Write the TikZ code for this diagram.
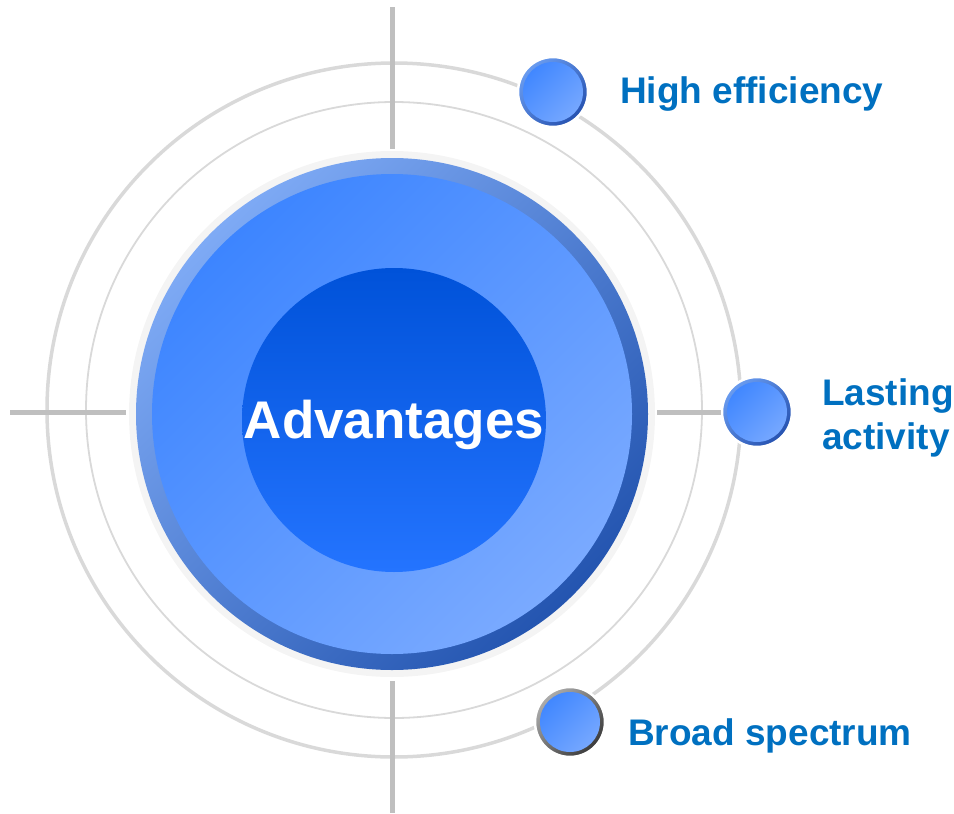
\documentclass[tikz,border=0pt]{standalone}
\usepackage{fontspec}
\setmainfont{Liberation Sans}
\usepackage{tikz}
\usetikzlibrary{calc,positioning,shapes.geometric}

\definecolor{ringgray}{HTML}{D9D9D9}
\definecolor{axisgray}{HTML}{BFBFBF}
\definecolor{halogray}{HTML}{F4F4F4}
\definecolor{coreringlight}{HTML}{7EAAF5}
\definecolor{coreringdark}{HTML}{2455B0}
\definecolor{filltop}{HTML}{3D85FF}
\definecolor{fillbot}{HTML}{7AAAFF}
\definecolor{deeptop}{HTML}{0052D9}
\definecolor{deepbot}{HTML}{2474FF}
\definecolor{bubringlight}{HTML}{6A9CF0}
\definecolor{bubringdark}{HTML}{2652B0}
\definecolor{grayringlight}{HTML}{ADADAD}
\definecolor{grayringdark}{HTML}{3A3A3A}
\definecolor{capblue}{HTML}{0070C0}

\begin{document}
\begin{tikzpicture}[x=1pt,y=-1pt]

	\tikzstyle{ring} = [draw=ringgray, line width=3.5pt]
	\tikzstyle{thinring} = [draw=ringgray, line width=1.8pt]
	\tikzstyle{axisline} = [draw=axisgray, line width=5pt]
	\tikzstyle{bubble} = [circle, inner sep=0pt, minimum size=70pt, draw=white, line width=2.5pt,
		path picture={\shade[top color=filltop, bottom color=fillbot, shading angle=45]
			(path picture bounding box.center) circle (30pt);}]
	\tikzstyle{bluebubble} = [bubble, top color=bubringlight, bottom color=bubringdark, shading angle=45]
	\tikzstyle{graybubble} = [bubble, top color=grayringlight, bottom color=grayringdark, shading angle=45]
	\tikzstyle{caption} = [inner sep=0pt, text=capblue, align=left,
		font=\bfseries\fontsize{37}{44}\selectfont]

    \useasboundingbox (0,0) rectangle (954,814);

    % Rings
    \draw[ring] (394,410) circle (347pt);
    \draw[thinring] (394,410) circle (308pt);

    % Place nodes
    \node [circle, fill=halogray, inner sep=0pt, minimum size=526pt] at (392, 414) (core) {};
    \shade [top color=coreringlight, bottom color=coreringdark, shading angle=45] (core.center) circle (256pt);
    \shade [top color=filltop, bottom color=fillbot, shading angle=45] (core.center) circle (240pt);
    \shade [top color=deeptop, bottom color=deepbot] (394,420) circle (152pt);
    \node [anchor=base, inner sep=0pt, text=white, font=\bfseries\fontsize{53}{60}\selectfont] at (394, 438) (title) {Advantages};

    \node [bluebubble] at (553, 92) (efficiency) {};
    \node [bluebubble] at (757, 412) (lasting) {};
    \node [graybubble] at (570, 722) (spectrum) {};

    \node [caption, anchor=base west] at (620, 103) (efficiency_text) {High efficiency};
    \node [caption, anchor=west] at (822, 418) (lasting_text) {Lasting\\activity};
    \node [caption, anchor=base west] at (628, 745) (spectrum_text) {Broad spectrum};

    \coordinate (top_end) at (392, 7);
    \coordinate (bottom_end) at (392, 813);
    \coordinate (left_end) at (10, 412);

    % Draw edges
    \path [axisline, shorten <=2pt] (core.north) -- (top_end);
    \path [axisline, shorten <=4pt] (core.south) -- (bottom_end);
    \path [axisline, shorten >=3pt] (left_end) -- (left_end -| core.west);
    \path [axisline, shorten <=2pt] (core.east |- lasting.west) -- (lasting.west);
\end{tikzpicture}
\end{document}
